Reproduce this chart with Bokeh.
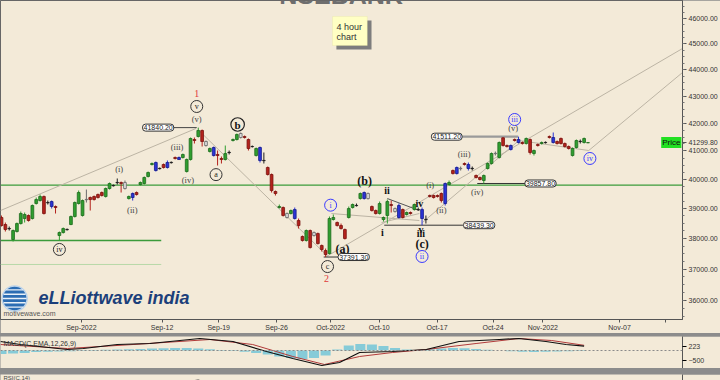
from bokeh.plotting import figure
from bokeh.models import Range1d, FixedTicker, PrintfTickFormatter, Label, BoxAnnotation, Span
from bokeh.layouts import column
from bokeh.embed import file_html
from bokeh.resources import INLINE
from bokeh.core.properties import value

BG = "#F3EAD8"

# ---------------- data ----------------
opens = [38697,38462,38330,37964,38229,38495,38663,38764,38663,39170,
         39272,39409,39204,39238,39068,38096,38195,38290,38462,38730,
         39170,38764,39300,39375,39409,39477,39546,39409,39684,39780,
         39885,39891,39891,39340,39512,39546,39822,39857,40100,40520,
         40591,40375,40520,40591,40585,40767,40767,40767,40274,40696,
         41410,41518,41735,41338,40980,41123,40874,40732,40696,40940,
         41374,41410,41627,41518,41410,41155,40838,41123,40655,40415,
         40170,39581,39034,39034,38831,38831,38966,38596,38063,37931,
         38262,38195,38162,37766,37603,37505,38630,38529,38428,38295,
         38697,39034,39098,39340,39546,39512,39068,38932,38831,38630,
         38764,39136,39000,39102,38966,38798,38865,38966,38960,38966,
         38625,39443,39443,39443,39512,39170,39822,40309,40415,40375,
         40555,40520,40385,40135,40066,39961,40380,40555,40905,40767,
         41470,41194,41194,41410,41410,41302,41266,41410,40909,41230,
         41266,41298,41518,41482,41338,41446,41266,41158,40838,41123,
         41335,41302,41290]
highs = [38764,38529,38395,38295,38529,38898,38865,38798,39136,39375,
         39477,39443,39272,39272,39102,38229,38362,38328,38764,39238,
         39615,39306,39649,39409,39443,39512,39581,39718,39891,39822,
         40031,39926,39961,39443,39546,39581,39926,40100,40274,40591,
         40626,40415,40555,40661,40626,40803,40803,40909,40732,41482,
         41482,41840.2,41771,41374,41123,41158,41016,40803,41194,41016,
         41446,41627,41663,41554,41446,41194,41123,41158,40945,40450,
         40204,39615,39136,39068,38865,38966,39034,38663,38096,38295,
         38295,38229,38195,37799,37668,38730,38798,38562,38495,38328,
         39068,39170,39170,39546,39581,39546,39102,38966,39238,38730,
         39306,39272,39034,39170,39000,38898,38898,39170,39034,39034,
         38764,39477,39477,39477,39546,39891,39961,40344,40450,40450,
         40591,40591,40450,40170,40100,40170,40591,40945,40980,41338,
         41495,41230,41230,41446,41511.2,41338,41482,41446,41052,41266,
         41338,41338,41554,41663,41374,41482,41302,41194,41123,41410,
         41410,41482,41305]
lows = [38395,38229,38262,37898,38195,38462,38529,38562,38630,39136,
        39238,38798,39136,39000,38831,37931,38162,38262,38440,38697,
        39136,38730,39204,38932,39272,39340,39409,39375,39649,39753,
        39822,39546,39649,39306,39272,39443,39787,39822,40066,40485,
        40274,40344,40380,40380,40555,40696,40696,40732,40239,40661,
        41266,41482,41158,41158,40945,40803,40485,40555,40661,40874,
        41338,41374,41446,41446,41016,41123,40803,40591,40555,40135,
        39546,39443,39000,38730,38663,38798,38630,38328,37898,37898,
        37668,38063,37799,37570,37391.3,37473,38596,38395,38295,37964,
        38663,39000,39068,39306,39306,39306,38898,38798,38798,38562,
        38495,38865,38865,38663,38663,38764,38798,38932,38932,38439.3,
        38495,39375,39340,39375,39204,39102,39787,40170,40170,40309,
        40485,40309,40309,40031,39961,39857.8,40344,40520,40838,40732,
        41158,41123,41016,41338,41266,41230,41230,40874,40838,41158,
        41230,41266,41446,41266,41230,41230,41123,41052,40803,41087,
        41266,41266,41290]
closes = [38428,38295,38320,38262,38495,38831,38798,38596,39102,39306,
          39409,38831,39195,39068,39034,38195,38328,38300,38730,39204,
          39546,39272,39310,39306,39306,39375,39443,39684,39857,39790,
          39895,39857,39684,39409,39375,39477,39891,40066,40239,40555,
          40309,40385,40415,40415,40595,40732,40696,40874,40696,41446,
          41374,41735,41338,41194,41087,40838,40838,40696,40909,40950,
          41410,41590,41482,41482,41087,41160,41087,40661,40665,40170,
          39615,39512,39068,38764,38697,38932,38663,38428,37931,38262,
          37701,38096,37832,37636,37473,38663,38697,38428,38328,37997,
          39000,39136,39106,39512,39340,39340,38932,38831,39170,38697,
          39238,39102,38898,38697,38697,38865,38831,39136,38970,38663,
          38635,39409,39375,39409,39272,39857,39891,40204,40204,40385,
          40520,40380,40375,40066,39996,40135,40555,40909,40915,41302,
          41194,41158,41052,41374,41302,41266,41446,40945,41016,41194,
          41302,41306,41482,41302,41266,41266,41158,41087,41087,41374,
          41345,41446,41299.8]
kinds = ("rrkggggrgg" "grkbrggkgg" "ggyrrrrggk" "krygbrgggg" "bkrbkrbggg"
         "rgrygbrrgk" "ggyrrkgbkr" "rrgrygbrrg" "ryrrrggrrr" "ggkgbyrrgg"
         "grybrgrgkb" "krrrrbgrby" "rbkrrgggyg" "rrbrbrgrgr" "gkrbrrrrgg" "kgg")
bars = list(range(len(closes)))

tick_pos = [20.7, 41.6, 56.3, 71.3, 85.3, 97.9, 112.9, 127.4, 140.3, 160.2, 172.1]
tick_lbl = ["Sep-2022", "Sep-12", "Sep-19", "Sep-26", "Oct-2022", "Oct-10",
            "Oct-17", "Oct-24", "Nov-2022", "Nov-07", ""]
price_ticks = [36000, 37000, 38000, 39000, 40000, 41000, 41299.8, 42000, 43000, 44000, 45000, 46000]
price_minor = [35500 + 250 * k for k in range(46)]
macd_ticks = [-500, 223]

# horizontal levels
lvl_y = [39800, 37931, 37150]
lvl_x0 = [-0.26, -0.26, -0.26]
lvl_x1 = [176.5, 41.4, 41.4]

# trend lines (bar index, price)
tr_x0 = [-0.26, 50.9, 84.2, 109.1, 134.1, 152.2, 85.5, 98.5]
tr_y0 = [38932, 41771, 37407, 38529, 41374, 41016, 38831, 38529]
tr_x1 = [50.4, 84.5, 176.5, 134.1, 152.2, 176.5, 108.3, 108.3]
tr_y1 = [41808, 37420, 44817, 41374, 41016, 43892, 38596, 38831]

# price tags
pb_text = ["41840.20", "41511.20", "39857.80", "38439.30", "37391.30"]
pb_val = [41840.2, 41511.2, 39857.8, 38439.3, 37391.3]
pb_x = [40.6, 115.4, 139.7, 123.8, 91.3]
pb_lx0 = [44.4, 119.4, 123.3, 99.2, 83.5]
pb_lx1 = [50.6, 133.9, 135.9, 119.6, 87.3]

# wave labels
cb_text = ["v", "a", "iv", "c"]
cb_x = [50.6, 55.6, 15.0, 84.5]
cb_y = [42615, 40166, 37638, 37083]
cbl_text = ["i", "ii", "iii", "iv"]
cbl_x = [85.3, 109.0, 133.0, 152.5]
cbl_y = [39114, 37409, 42137, 40733]
par_text = ["(v)", "(iii)", "(i)", "(iv)", "(ii)", "(i)", "(ii)", "(iii)", "(iv)", "(v)"]
par_x = [50.6, 45.5, 30.5, 48.3, 33.9, 111.1, 114.0, 119.9, 123.3, 132.6]
par_y = [42171, 41125, 40379, 39969, 38966, 39796, 38944, 40875, 39577, 41809]
bp_text = ["(b)", "(a)", "(c)"]
bp_x = [94.1, 88.4, 109.0]
bp_y = [39927, 37668, 37829]
bi_text = ["ii", "i", "iv", "iii", "v"]
bi_x = [99.9, 98.7, 108.3, 108.7, 108.7]
bi_y = [39625, 38195, 39170, 38170, 38290]
red_text = ["1", "2"]
red_x = [50.6, 84.2]
red_y = [43097, 36698]

# MACD
macd_x = [-0.26, 4.9, 17.1, 21.2, 30, 38.5, 51.4, 60, 68.7, 75.5, 83, 87.6, 92.8,
          101.3, 110.1, 118.6, 129, 134.1, 141.1, 146.3, 151]
macd_v = [450, 300, 50, 100, 300, 350, 600, 450, -50, -400, -750, -600, -100,
          -50, 50, 450, 550, 600, 450, 300, 223]
sig_x = [-0.26, 17.1, 34.1, 54, 65.1, 75.5, 83.7, 92.8, 101.3, 110.1, 123, 134.1, 142.6, 151]
sig_v = [300, 100, 300, 550, 300, -300, -700, -300, -100, 50, 350, 600, 500, 260]
hist_x = list(range(0, 151, 3))
hist_v = [-180, -150, -120, -80, -60, -50, -40, -30, 20, 40, 50, 60, 80, 100, 110, 120, 120,
          100, 60, 20, -20, -60, -120, -200, -300, -380, -420, -380, -250, 50, 250, 330, 300,
          220, 120, 50, 30, 60, 100, 120, 110, 80, 40, 0, -40, -60, -70, -60, -50, -40, -30]

# RSI
rsi_x = [0, 10, 20, 30, 38, 42, 46, 49, 51, 53, 56, 62, 70, 80, 85, 90, 100, 110, 116,
         122, 127, 130, 134, 140, 146, 152]
rsi_v = [52, 58, 60, 63, 68, 67, 64, 73, 76, 70, 62, 60, 42, 30, 36, 56, 52, 50, 60,
         64, 68, 69, 68, 62, 58, 60]
ob_x = [48.3, 49, 51, 53]
ob_v = [70, 73, 76, 70]

# ---------------- styles ----------------
fill_map = {"g": "#2f9e2f", "r": "#b4221c", "b": "#2b34d6", "k": "#1e1e1e", "y": "#dadada"}
line_map = {"g": "#1e6b1e", "r": "#7a1410", "b": "#141c8c", "k": "#1e1e1e", "y": "#6a6a6a"}
wick_map = {"g": "#2f9e2f", "r": "#b4221c", "b": "#2b34d6", "k": "#1e1e1e", "y": "#6a6a6a"}
AX = "Liberation Sans"
SERIF = "Liberation Serif"

xr = Range1d(-0.26, 176.5)

p = figure(width=720, height=333, x_range=xr, y_range=Range1d(35416, 46725),
           y_axis_type="log", y_axis_location="right", toolbar_location=None,
           output_backend="svg", min_border_left=0, min_border_right=36,
           min_border_top=0, min_border_bottom=0,
           background_fill_color=BG, border_fill_color=BG, outline_line_color="#666666")
p.xgrid.grid_line_color = None
p.ygrid.grid_line_color = None

p.xaxis.ticker = FixedTicker(ticks=tick_pos)
p.xaxis.major_label_overrides = {t: l for t, l in zip(tick_pos, tick_lbl)}
p.xaxis.major_tick_in = 0
p.xaxis.major_tick_out = 3
p.xaxis.major_label_standoff = 1
p.yaxis.ticker = FixedTicker(ticks=price_ticks, minor_ticks=price_minor)
p.yaxis.formatter = PrintfTickFormatter(format="%.2f")
p.yaxis.major_tick_in = 0
p.yaxis.major_tick_out = 4
p.yaxis.minor_tick_in = 0
p.yaxis.minor_tick_out = 2
p.yaxis.major_label_standoff = 2
for ax in (p.xaxis, p.yaxis):
    ax.major_label_text_font = AX
    ax.major_label_text_font_size = "7px"
    ax.major_label_text_color = "#333333"
    ax.axis_line_color = "#555555"
    ax.major_tick_line_color = "#555555"
    ax.minor_tick_line_color = "#777777"
p.xaxis.minor_tick_line_color = None

# title, note, logo
p.add_layout(Label(x=88, y=46563, y_offset=9, text="NSEBANK", text_align="center",
                   text_baseline="alphabetic", text_font=AX, text_font_style="bold",
                   text_font_size="25px", text_color="#6e6e6e"))
p.add_layout(BoxAnnotation(left=86.8, right=95.9, top=45920, bottom=44778,
                           fill_color="#7d7d7d", fill_alpha=1, line_color=None, level="underlay"))
p.add_layout(BoxAnnotation(left=85.8, right=94.8, top=46080, bottom=44934,
                           fill_color="#FFFFC4", fill_alpha=1, line_color="#e6e6a0", level="underlay"))
p.add_layout(Label(x=86.8, y=45681, text="4 hour", text_baseline="middle", text_font=AX,
                   text_font_size="9px", text_color="#333333"))
p.add_layout(Label(x=86.8, y=45286, text="chart", text_baseline="middle", text_font=AX,
                   text_font_size="9px", text_color="#333333"))

p.scatter([3.4], [36067], size=25, marker="circle", fill_color="#2c6db3", line_color="#bcd3ea", line_width=1.5)
p.scatter([3.4] * 5, [36340, 36200, 36067, 35935, 35800], size=[17, 22, 24, 22, 17],
          marker="dash", line_color="#e9f1f8", line_width=1.4)
p.add_layout(Label(x=9.6, y=36099, text="eLLiottwave india", text_baseline="middle",
                   text_font=AX, text_font_style="bold italic", text_font_size="18px",
                   text_color="#1b3f7a"))
p.add_layout(Label(x=0.5, y=35601, text="motivewave.com", text_baseline="middle",
                   text_font=AX, text_font_size="7px", text_color="#555555"))

# levels and trend lines
p.segment(lvl_x0[:1], lvl_y[:1], lvl_x1[:1], lvl_y[:1], line_color="#3b9b3b", line_width=1.4)
p.segment(lvl_x0[1:2], lvl_y[1:2], lvl_x1[1:2], lvl_y[1:2], line_color="#3b9b3b", line_width=1.4)
p.segment(lvl_x0[2:], lvl_y[2:], lvl_x1[2:], lvl_y[2:], line_color="#b8d8a8", line_width=1)
p.segment(tr_x0, tr_y0, tr_x1, tr_y1, line_color="#bcb4a4", line_width=1)
p.segment([100.0], [39340], [108.3], [38932], line_color="#555555", line_width=1)

# price-tag leader lines
p.segment(pb_lx0[:1], pb_val[:1], pb_lx1[:1], pb_val[:1], line_color="#444444", line_width=1)
p.segment(pb_lx0[1:2], pb_val[1:2], pb_lx1[1:2], pb_val[1:2], line_color="#9a9a9a", line_width=2.2)
p.segment(pb_lx0[2:], pb_val[2:], pb_lx1[2:], pb_val[2:], line_color="#333333", line_width=1)

# candles
p.segment(bars, lows, bars, highs, line_color=[wick_map[k] for k in kinds], line_width=1)
p.vbar(x=bars, width=0.72, top=[max(o, c) for o, c in zip(opens, closes)],
       bottom=[min(o, c) for o, c in zip(opens, closes)],
       fill_color=[fill_map[k] for k in kinds], line_color=[line_map[k] for k in kinds], line_width=0.8)

# price tags
for t, xx, yy in zip(pb_text, pb_x, pb_val):
    p.add_layout(Label(x=xx, y=yy, text=t, text_align="center", text_baseline="middle",
                       text_font=AX, text_font_size="7px", text_color="#222222",
                       background_fill_color="white", border_line_color="#333333",
                       padding=1, border_radius=3))

# wave labels
p.scatter(cb_x, cb_y, size=12, marker="circle", fill_color=None, line_color="#333333", line_width=1)
p.text(cb_x, cb_y, text=cb_text, text_align="center", text_baseline="middle",
       text_font=value(SERIF), text_font_size="8px", text_color="#222222")
p.scatter([61.2], [41953], size=13.5, marker="circle", fill_color=None, line_color="#222222", line_width=1.2)
p.text([61.2], [41953], text=["b"], text_align="center", text_baseline="middle",
       text_font=value(SERIF), text_font_style="bold", text_font_size="11px", text_color="#111111")
p.scatter(cbl_x, cbl_y, size=12, marker="circle", fill_color=None, line_color="#3a3aff", line_width=1)
p.text(cbl_x, cbl_y, text=cbl_text, text_align="center", text_baseline="middle",
       text_font=value(SERIF), text_font_size="8px", text_color="#3a3aff")
p.text(par_x, par_y, text=par_text, text_align="center", text_baseline="middle",
       text_font=value(SERIF), text_font_size="8.5px", text_color="#444444")
p.text(bp_x, bp_y, text=bp_text, text_align="center", text_baseline="middle",
       text_font=value(SERIF), text_font_style="bold", text_font_size="12px", text_color="#111111")
p.text(bi_x, bi_y, text=bi_text, text_align="center", text_baseline="middle",
       text_font=value(SERIF), text_font_style="bold", text_font_size="10px", text_color="#111111")
p.text(red_x, red_y, text=red_text, text_align="center", text_baseline="middle",
       text_font=value(SERIF), text_font_size="10px", text_color="#e03a3a")

# current price tag inside the frame
p.add_layout(Label(x=173.6, y=closes[-1], text="Price", text_align="center", text_baseline="middle",
                   text_font=AX, text_font_size="8px", text_color="#111111",
                   background_fill_color="#22e022", padding=1))

# ---------------- MACD panel ----------------
m = figure(width=720, height=32, x_range=xr, y_range=Range1d(-900, 700),
           y_axis_location="right", x_axis_location=None, toolbar_location=None,
           output_backend="svg", min_border_left=0, min_border_right=36,
           min_border_top=0, min_border_bottom=0,
           background_fill_color=BG, border_fill_color=BG, outline_line_color=None)
m.xgrid.grid_line_color = None
m.ygrid.grid_line_color = None
m.yaxis.ticker = FixedTicker(ticks=macd_ticks)
m.yaxis.major_label_text_font = AX
m.yaxis.major_label_text_font_size = "7px"
m.yaxis.major_label_text_color = "#333333"
m.yaxis.axis_line_color = "#555555"
m.yaxis.major_tick_out = 4
m.yaxis.major_tick_in = 0
m.yaxis.major_label_standoff = 2
m.vbar(x=hist_x, width=2.6, top=hist_v, bottom=0, fill_color="#86cbd8", line_color=None)
m.add_layout(Span(location=0, dimension="width", line_color="#8a8a8a", line_dash="2 2", line_width=1))
m.line(sig_x, sig_v, line_color="#b03a3a", line_width=1)
m.line(macd_x, macd_v, line_color="#111111", line_width=1.2)
m.add_layout(Label(x=0.5, y=350, text="MACD(C,EMA,12,26,9)", text_baseline="middle",
                   text_font=AX, text_font_size="7px", text_color="#333333"))

# ---------------- RSI panel ----------------
r = figure(width=720, height=9, x_range=xr, y_range=Range1d(66, 92),
           y_axis_location="right", x_axis_location=None, toolbar_location=None,
           output_backend="svg", min_border_left=0, min_border_right=36,
           min_border_top=0, min_border_bottom=0,
           background_fill_color=BG, border_fill_color=BG, outline_line_color=None)
r.xgrid.grid_line_color = None
r.ygrid.grid_line_color = None
r.yaxis.ticker = FixedTicker(ticks=[])
r.yaxis.axis_line_color = "#555555"
r.varea(x=ob_x, y1=[70] * len(ob_x), y2=ob_v, fill_color="#5cb85c")
r.line(rsi_x, rsi_v, line_color="#333333", line_width=1)
r.add_layout(Label(x=0.5, y=81, text="RSI(C,14)", text_baseline="middle",
                   text_font=AX, text_font_size="6px", text_color="#444444"))

layout = column(p, m, r, spacing=3, styles={"background-color": "#8c8c8c"})
open("out.html", "w").write(file_html(layout, INLINE))
